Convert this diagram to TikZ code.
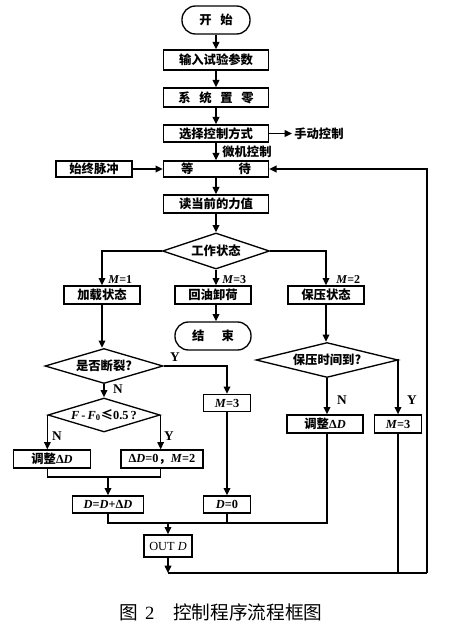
\documentclass[tikz,border=0pt]{standalone}
\usepackage{fontspec}
\setmainfont{Liberation Serif}
\newfontfamily\cjk{Noto Sans CJK SC}
\usetikzlibrary{arrows.meta,shapes.geometric}
\newdimen\px \px=0.75pt
\tikzset{
  line/.style={line width=1pt},
  arr/.style={line width=1pt, -{Triangle[length=5.5pt,width=5pt]}},
  boxfont/.style={font=\fontsize{9.25}{10}\selectfont\cjk\bfseries},
  bx/.style 2 args={draw, line width=1pt, minimum width=#1\px, minimum height=#2\px, inner sep=0pt, boxfont},
  term/.style 2 args={bx={#1}{#2}, rounded corners=13.5\px},
  dia/.style 2 args={draw, diamond, aspect=3, inner sep=0pt, line width=1pt, minimum width=#1\px, minimum height=#2\px, boxfont},
  lab/.style={font=\fontsize{10}{11}\selectfont\bfseries, inner sep=0pt},
  mlab/.style={font=\fontsize{9}{10}\selectfont\bfseries, inner sep=0pt, anchor=west},
  clab/.style={font=\fontsize{9.25}{10}\selectfont\cjk\bfseries, inner sep=0pt}
}
\begin{document}
\begin{tikzpicture}[x=0.75pt,y=-0.75pt]
\useasboundingbox (0,0) rectangle (456,627);
% nodes
\node[term={68}{28}] (start) at (216,20) {开\hspace{6.5pt}始};
\node[bx={105}{20}] (inp) at (216,60) {输入试验参数};
\node[bx={105}{19}] (zero) at (216,97.5) {系\hspace{6.5pt}统\hspace{6.5pt}置\hspace{6.5pt}零};
\node[bx={105}{17}] (sel) at (216,133.5) {选择控制方式};
\node[bx={105}{16}] (wait) at (216,169) {等\hspace{34pt}待};
\node[bx={76}{16}] (pulse) at (94,169) {始终脉冲};
\node[bx={105}{18}] (read) at (216,204) {读当前的力值};
\node[dia={107}{36}] (work) at (216,251) {工作状态};
\node[bx={76}{18}] (load) at (102,295) {加载状态};
\node[bx={76}{18}] (oil) at (213,295) {回油卸荷};
\node[bx={76}{18}] (hold) at (326,295) {保压状态};
\node[term={76}{28}] (end) at (213,336) {结\hspace{13pt}束};
\node[dia={118}{35}] (brk) at (104,366) {是否断裂?};
\node[dia={112}{34}] (fcmp) at (104,415) {\rmfamily\textit{F}\,-\,\textit{F}\textsubscript{0}{\cjk ≤}0.5\,?};
\node[bx={77}{18}] (adjL) at (52,459) {调整{\rmfamily Δ\textit{D}}};
\node[bx={82}{18}] (dz) at (162,459) {\rmfamily Δ\textit{D}=0{\cjk ，}\textit{M}=2};
\node[bx={71}{17}] (sum) at (108,504.5) {\rmfamily\textit{D}=\textit{D}+Δ\textit{D}};
\node[bx={47}{17}] (m3a) at (227,403) {\rmfamily\textit{M}=3};
\node[bx={47}{17}] (d0) at (227,504.5) {\rmfamily\textit{D}=0};
\node[dia={142}{35}] (hdia) at (327,360) {保压时间到?};
\node[bx={76}{18}] (adjR) at (325,424) {调整{\rmfamily Δ\textit{D}}};
\node[bx={47}{18}] (m3b) at (398,424) {\rmfamily\textit{M}=3};
\node[bx={48}{22}] (out) at (168,546) {\rmfamily\mdseries OUT \textit{D}};
% labels
\node[clab, anchor=west] (manual) at (294,134) {手动控制};
\coordinate (manualend) at (292,133.5);
\node[clab, anchor=west] (micro) at (222,152) {微机控制};
\node[mlab] (lm1) at (108,280) {\textit{M}=1};
\node[mlab] (lm3) at (222,280) {\textit{M}=3};
\node[mlab] (lm2) at (336,280) {\textit{M}=2};
\node[lab] (by) at (175,357) {Y};
\node[lab] (bn) at (118,389) {N};
\node[lab] (fn) at (57,436) {N};
\node[lab] (fy) at (169,436) {Y};
\node[lab] (hn) at (342,400) {N};
\node[lab] (hy) at (412,400) {Y};
% caption
\node (cap) at (221,612) {\fontsize{14}{16}\selectfont\cjk 图\hspace{5pt}{\rmfamily 2}\hspace{14pt}控制程序流程框图};
% connectors
\draw[arr] (start) -- (inp);
\draw[arr] (inp) -- (zero);
\draw[arr] (zero) -- (sel);
\draw[arr] (sel) -- (wait);
\draw[arr] (sel.east) -- (manualend);
\draw[arr] (pulse) -- (wait);
\draw[arr] (wait) -- (read);
\draw[arr] (read) -- (work);
\draw[arr] (work.west) -| (load.north);
\draw[arr] (work.south) -- (work.south |- oil.north);
\draw[arr] (work.east) -| (hold.north);
\draw[arr] (oil.south -| work.south) -- (work.south |- end.north);
\draw[arr] (load.south) -- (load.south |- brk.north);
\draw[arr] (brk.south) -- (fcmp.north);
\draw[arr] (brk.east) -| (m3a.north);
\draw[arr] (m3a) -- (d0);
\draw[arr] (hold.south) -- (hold.south |- hdia.north);
\draw[arr] (hdia.south) -- (hdia.south |- adjR.north);
\draw[arr] (hdia.east) -| (m3b.north);
\draw[arr] (fcmp.west) -- (fcmp.west |- adjL.north);
\draw[arr] (fcmp.east) -- (fcmp.east |- dz.north);
\coordinate (mrg) at (108,477);
\draw[line] (fcmp.west |- adjL.south) -- (fcmp.west |- mrg) -- (fcmp.east |- mrg) -- (fcmp.east |- dz.south);
\draw[arr] (mrg) -- (sum.north);
\coordinate (bot) at (168,523);
\draw[line] (sum.south) -- (sum.south |- bot) -- (hdia.south |- bot) -- (hdia.south |- adjR.south);
\draw[line] (d0.south) -- (d0.south |- bot);
\draw[arr] (bot) -- (out.north);
\coordinate (ret) at (168,573);
\coordinate (rc) at (427,573);
\draw[arr] (out.south) -- (ret);
\draw[line] (ret) -- (rc);
\draw[arr] (rc) -- (rc |- wait.east) -- (wait.east);
\draw[line] (m3b.south) -- (m3b.south |- rc);
\end{tikzpicture}
\end{document}
